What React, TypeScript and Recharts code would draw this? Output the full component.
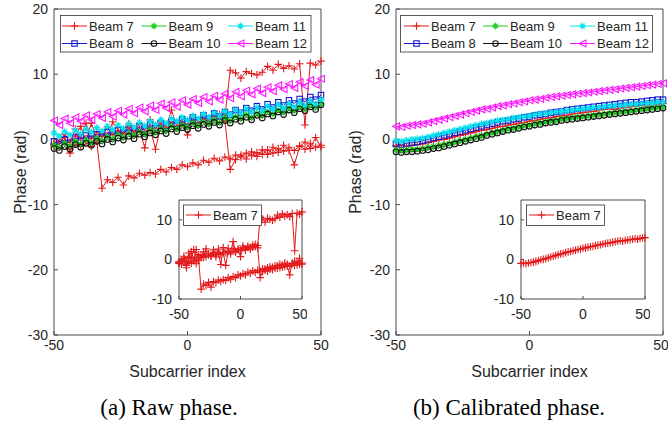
import React from "react";
import { LineChart, Line, XAxis, YAxis } from "recharts";

const subcarriers = [
  -50, -48, -46, -44, -42, -40, -38, -36, -34, -32,
  -30, -28, -26, -24, -22, -20, -18, -16, -14, -12,
  -10, -8, -6, -4, -2, 0, 2, 4, 6, 8,
  10, 12, 14, 16, 18, 20, 22, 24, 26, 28,
  30, 32, 34, 36, 38, 40, 42, 44, 46, 48,
  50,
];

// (a) raw phase; beam 7 holds three packets
const rawBeam7a = [
  -0.8, -1.2, -0.5, -1.5, -0.7, -1.0, -0.3, -1.1, -0.2, -7.5,
  -6.2, -6.6, -5.8, -7.0, -5.6, -5.9, -5.2, -5.5, -5.1, -5.3,
  -4.6, -5.0, -4.3, -4.6, -3.9, -4.2, -3.6, -3.9, -3.2, -3.5,
  -2.9, -3.3, -2.7, -3.0, -2.4, -2.7, -2.1, -2.5, -2.0, -2.3,
  -1.6, -2.1, -1.4, -1.8, -1.2, -1.7, -1.0, -1.5, -0.6, -1.2,
  -0.9,
];
const rawBeam7b = [
  -0.6, -0.2, 0.8, -0.4, 1.6, 0.2, 2.5, 0.1, 1.2, 0.4,
  1.9, 0.7, 1.1, 0.8, 2.4, 1.2, 1.5, -1.3, 3.0, 1.6,
  2.8, 1.9, 4.5, 2.0, 2.6, 2.3, 3.4, 2.6, 3.1, 3.0,
  3.6, 3.2, 3.5, 10.6, 10.2, 9.4, 10.4, 10.1, 9.9, 10.3,
  11.2, 10.6, 11.5, 10.9, 11.3, 10.8, 11.6, 2.2, 11.7, 11.4,
  12.0,
];
const rawBeam7c = [
  -1.0, -0.4, 0.3, -2.1, 0.5, 2.0, -0.2, 2.5, 0.1, 1.0,
  0.5, 2.7, 1.4, 0.9, 1.8, 0.6, 2.6, 1.2, 1.7, -1.5,
  2.0, 1.4, 2.7, 1.8, 2.4, 0.7, 2.9, 2.3, 3.3, 2.6,
  3.1, 3.8, 2.9, -4.6, -3.1, -2.4, -3.0, -1.9, -2.6, -1.6,
  -2.3, -1.2, -2.0, -0.9, -1.7, -3.9, -1.1, -0.4, -1.4, 0.3,
  -1.2,
];
const rawBeam8 = [
  -0.3, -0.8, 0.0, -0.5, 0.3, -0.2, 0.6, 0.1, 0.8, 0.4,
  1.1, 0.7, 1.4, 0.9, 1.7, 1.2, 2.0, 1.5, 2.3, 1.8,
  2.5, 2.1, 2.8, 2.4, 3.1, 2.7, 3.4, 2.9, 3.7, 3.2,
  4.0, 3.5, 4.2, 3.8, 4.5, 4.1, 4.8, 4.4, 5.1, 4.6,
  5.4, 4.9, 5.7, 5.2, 6.0, 5.5, 6.2, 5.8, 6.5, 6.1,
  6.8,
];
const rawBeam9 = [
  -0.9, -1.2, -0.6, -1.0, -0.3, -0.7, -0.1, -0.5, 0.2, -0.2,
  0.4, 0.1, 0.7, 0.3, 0.9, 0.6, 1.2, 0.8, 1.5, 1.1,
  1.7, 1.3, 2.0, 1.6, 2.2, 1.9, 2.5, 2.1, 2.7, 2.4,
  3.0, 2.6, 3.3, 2.9, 3.5, 3.2, 3.8, 3.4, 4.0, 3.7,
  4.3, 3.9, 4.5, 4.2, 4.8, 4.4, 5.0, 4.7, 5.3, 4.9,
  5.5,
];
const rawBeam10 = [
  -1.4, -1.7, -1.1, -1.5, -0.8, -1.2, -0.6, -0.9, -0.3, -0.7,
  0.0, -0.4, 0.2, -0.1, 0.5, 0.1, 0.8, 0.4, 1.0, 0.7,
  1.3, 0.9, 1.6, 1.2, 1.8, 1.5, 2.1, 1.7, 2.3, 2.0,
  2.6, 2.2, 2.9, 2.5, 3.1, 2.8, 3.4, 3.0, 3.7, 3.3,
  3.9, 3.6, 4.2, 3.8, 4.5, 4.1, 4.7, 4.4, 5.0, 4.6,
  5.3,
];
const rawBeam11 = [
  1.0, 0.5, 1.2, 0.7, 1.4, 0.9, 1.6, 1.1, 1.8, 1.3,
  2.0, 1.5, 2.2, 1.7, 2.4, 1.9, 2.6, 2.1, 2.8, 2.3,
  3.0, 2.5, 3.2, 2.8, 3.4, 3.0, 3.6, 3.2, 3.9, 3.4,
  4.1, 3.6, 4.3, 3.8, 4.5, 4.0, 4.7, 4.2, 4.9, 4.4,
  5.1, 4.6, 5.3, 4.8, 5.5, 5.0, 5.7, 5.2, 5.9, 5.4,
  6.1,
];
const rawBeam12 = [
  2.9, 2.2, 3.2, 2.5, 3.4, 2.8, 3.7, 3.0, 3.9, 3.3,
  4.2, 3.5, 4.4, 3.8, 4.7, 4.0, 4.9, 4.3, 5.2, 4.5,
  5.5, 4.8, 5.7, 5.0, 6.0, 5.3, 6.2, 5.6, 6.5, 5.8,
  6.7, 6.1, 7.0, 6.3, 7.3, 6.6, 7.5, 6.9, 7.8, 7.1,
  8.0, 7.4, 8.3, 7.7, 8.5, 7.9, 8.8, 8.2, 9.1, 8.4,
  9.3,
];

// (b) calibrated phase
const calBeam7 = [
  -1.0, -0.9, -1.1, -0.9, -0.8, -0.7, -0.5, -0.3, -0.1, 0.0,
  0.2, 0.4, 0.6, 0.8, 1.0, 1.2, 1.4, 1.5, 1.7, 1.9,
  2.0, 2.2, 2.3, 2.5, 2.6, 2.8, 2.9, 3.1, 3.2, 3.3,
  3.5, 3.6, 3.7, 3.9, 4.0, 4.1, 4.2, 4.3, 4.5, 4.6,
  4.7, 4.6, 4.8, 4.9, 5.0, 5.1, 5.2, 5.1, 5.3, 5.4,
  5.5,
];
const calBeam8 = [
  -0.7, -0.8, -0.6, -0.5, -0.4, -0.2, 0.0, 0.2, 0.4, 0.6,
  0.8, 1.0, 1.2, 1.4, 1.6, 1.8, 2.0, 2.2, 2.4, 2.6,
  2.8, 2.9, 3.1, 3.2, 3.4, 3.5, 3.7, 3.8, 3.9, 4.1,
  4.2, 4.3, 4.5, 4.6, 4.7, 4.8, 4.9, 5.0, 5.1, 5.2,
  5.3, 5.4, 5.5, 5.6, 5.7, 5.7, 5.8, 5.9, 6.0, 6.1,
  6.1,
];
const calBeam9 = [
  -1.6, -1.7, -1.6, -1.5, -1.5, -1.4, -1.2, -1.1, -0.9, -0.8,
  -0.6, -0.4, -0.2, 0.0, 0.2, 0.4, 0.6, 0.8, 1.0, 1.2,
  1.4, 1.6, 1.7, 1.9, 2.1, 2.2, 2.4, 2.5, 2.7, 2.8,
  2.9, 3.1, 3.2, 3.3, 3.4, 3.5, 3.6, 3.7, 3.8, 3.9,
  4.0, 4.1, 4.2, 4.3, 4.4, 4.5, 4.6, 4.7, 4.8, 4.9,
  5.0,
];
const calBeam10 = [
  -1.9, -2.0, -1.9, -1.9, -1.8, -1.7, -1.6, -1.4, -1.3, -1.1,
  -0.9, -0.7, -0.5, -0.3, -0.1, 0.1, 0.3, 0.6, 0.8, 1.0,
  1.2, 1.4, 1.5, 1.7, 1.9, 2.0, 2.2, 2.3, 2.5, 2.6,
  2.7, 2.9, 3.0, 3.1, 3.2, 3.3, 3.4, 3.5, 3.6, 3.7,
  3.8, 3.9, 4.0, 4.1, 4.2, 4.3, 4.4, 4.5, 4.6, 4.7,
  4.8,
];
const calBeam11 = [
  -0.2, -0.3, -0.1, 0.0, 0.1, 0.2, 0.4, 0.6, 0.8, 1.0,
  1.2, 1.4, 1.6, 1.8, 2.0, 2.2, 2.4, 2.5, 2.7, 2.9,
  3.0, 3.1, 3.3, 3.4, 3.5, 3.6, 3.8, 3.9, 4.0, 4.1,
  4.2, 4.3, 4.4, 4.5, 4.6, 4.7, 4.8, 4.9, 4.9, 5.0,
  5.1, 5.2, 5.2, 5.3, 5.4, 5.4, 5.5, 5.5, 5.6, 5.7,
  5.7,
];
const calBeam12 = [
  2.0, 1.9, 2.1, 2.2, 2.3, 2.4, 2.6, 2.8, 3.0, 3.2,
  3.4, 3.6, 3.8, 4.0, 4.2, 4.4, 4.6, 4.7, 4.9, 5.1,
  5.2, 5.4, 5.5, 5.7, 5.8, 6.0, 6.1, 6.2, 6.4, 6.5,
  6.6, 6.7, 6.8, 6.9, 7.0, 7.1, 7.2, 7.3, 7.4, 7.5,
  7.6, 7.7, 7.8, 7.9, 8.0, 8.1, 8.2, 8.3, 8.4, 8.5,
  8.6,
];

const mainYTicks = [-30, -20, -10, 0, 10, 20];
const insetYTicks = [-10, 0, 10];
const xTicks = [-50, 0, 50];

const FONT = "'Liberation Sans', Arial, Helvetica, sans-serif";
const SERIF = "'Liberation Serif', 'Times New Roman', Times, serif";
const AXIS = "#4a4a4a";
const TEXT = "#262626";

const RED = "#e31a1c";
const BLUE = "#1414d2";
const GREEN = "#1ccf1c";
const BLACK = "#111111";
const CYAN = "#00e3ee";
const MAGENTA = "#ff14ff";

type Shape = "plus" | "square" | "star" | "circle" | "tri";

type Series = { key: string; name: string; color: string; shape: Shape };

function Marker({ shape, cx, cy, color }: { shape: Shape; cx: number; cy: number; color: string }) {
  const h = 3.4;
  const sw = 1.1;
  if (shape === "plus") {
    return <path d={`M${cx - 3.8},${cy}H${cx + 3.8}M${cx},${cy - 3.8}V${cy + 3.8}`} stroke={color} strokeWidth={sw} fill="none" />;
  }
  if (shape === "square") {
    return <rect x={cx - 2.7} y={cy - 2.7} width={5.4} height={5.4} stroke={color} strokeWidth={sw} fill="none" />;
  }
  if (shape === "star") {
    const d = 2.4;
    return (
      <path
        d={`M${cx - h},${cy}H${cx + h}M${cx},${cy - h}V${cy + h}M${cx - d},${cy - d}L${cx + d},${cy + d}M${cx - d},${cy + d}L${cx + d},${cy - d}`}
        stroke={color}
        strokeWidth={sw}
        fill="none"
      />
    );
  }
  if (shape === "circle") {
    return <circle cx={cx} cy={cy} r={2.8} stroke={color} strokeWidth={sw} fill="none" />;
  }
  return <path d={`M${cx - h},${cy}L${cx + h},${cy - h}L${cx + h},${cy + h}Z`} stroke={color} strokeWidth={sw} fill="none" />;
}

const rawSeries: Series[] = [
  { key: "b7a", name: "Beam 7", color: RED, shape: "plus" },
  { key: "b7b", name: "Beam 7", color: RED, shape: "plus" },
  { key: "b7c", name: "Beam 7", color: RED, shape: "plus" },
  { key: "b8", name: "Beam 8", color: BLUE, shape: "square" },
  { key: "b9", name: "Beam 9", color: GREEN, shape: "star" },
  { key: "b10", name: "Beam 10", color: BLACK, shape: "circle" },
  { key: "b11", name: "Beam 11", color: CYAN, shape: "star" },
  { key: "b12", name: "Beam 12", color: MAGENTA, shape: "tri" },
];

const calSeries: Series[] = [
  { key: "b7", name: "Beam 7", color: RED, shape: "plus" },
  { key: "b8", name: "Beam 8", color: BLUE, shape: "square" },
  { key: "b9", name: "Beam 9", color: GREEN, shape: "star" },
  { key: "b10", name: "Beam 10", color: BLACK, shape: "circle" },
  { key: "b11", name: "Beam 11", color: CYAN, shape: "star" },
  { key: "b12", name: "Beam 12", color: MAGENTA, shape: "tri" },
];

const legendItems: Series[] = calSeries;

const rawRows = subcarriers.map((x, i) => ({
  x,
  b7a: rawBeam7a[i],
  b7b: rawBeam7b[i],
  b7c: rawBeam7c[i],
  b8: rawBeam8[i],
  b9: rawBeam9[i],
  b10: rawBeam10[i],
  b11: rawBeam11[i],
  b12: rawBeam12[i],
}));

const calRows = subcarriers.map((x, i) => ({
  x,
  b7: calBeam7[i],
  b8: calBeam8[i],
  b9: calBeam9[i],
  b10: calBeam10[i],
  b11: calBeam11[i],
  b12: calBeam12[i],
}));

const tickStyle = { fill: TEXT, fontSize: 14, fontFamily: FONT };

function renderLines(series: Series[]) {
  return series.map((s) => (
    <Line
      key={s.key}
      dataKey={s.key}
      stroke={s.color}
      strokeWidth={1}
      isAnimationActive={false}
      activeDot={false}
      dot={(p: any) =>
        p.cx == null || p.cy == null ? (
          <g key={`${s.key}-${p.index}`} />
        ) : (
          <Marker key={`${s.key}-${p.index}`} shape={s.shape} cx={p.cx} cy={p.cy} color={s.color} />
        )
      }
    />
  ));
}

// top and right box edges with inward ticks, MATLAB style (1px thick so recharts draws them)
function boxAxes(yTicks: number[], yDomain: [number, number], tickLen: number, anyKey: string) {
  return [
    <XAxis key="xt" xAxisId="top" orientation="top" dataKey="x" type="number" domain={[-50, 50]} ticks={xTicks} allowDataOverflow height={1} tickSize={-tickLen} tick={false} stroke={AXIS} />,
    <YAxis key="yr" yAxisId="right" orientation="right" type="number" domain={yDomain} ticks={yTicks} allowDataOverflow width={1} tickSize={-tickLen} tick={false} stroke={AXIS} />,
    <Line key="ghost" xAxisId="top" yAxisId="right" dataKey={anyKey} stroke="none" dot={false} activeDot={false} isAnimationActive={false} />,
  ];
}

function MainChart({ left, axisWidth, rightMargin, rows, series }: { left: number; axisWidth: number; rightMargin: number; rows: any[]; series: Series[] }) {
  return (
    <div style={{ position: "absolute", left, top: 0 }}>
      <LineChart width={334} height={360} data={rows} margin={{ top: 8, right: rightMargin - 1, left: 0, bottom: 0 }}>
        <XAxis dataKey="x" type="number" domain={[-50, 50]} ticks={xTicks} height={25} tickSize={-4} tickMargin={9} stroke={AXIS} tick={tickStyle} />
        <YAxis type="number" domain={[-30, 20]} ticks={mainYTicks} width={axisWidth} tickSize={-4} tickMargin={10} stroke={AXIS} tick={tickStyle} />
        {boxAxes(mainYTicks, [-30, 20], 4, series[0].key)}
        {renderLines(series)}
      </LineChart>
    </div>
  );
}

function InsetChart({ left, plotWidth, rows, series }: { left: number; plotWidth: number; rows: any[]; series: Series[] }) {
  return (
    <div style={{ position: "absolute", left, top: 195 }}>
      <LineChart width={30 + plotWidth + 5} height={129} data={rows} margin={{ top: 4, right: 4, left: 0, bottom: 0 }}>
        <XAxis dataKey="x" type="number" domain={[-50, 50]} ticks={xTicks} height={25} tickSize={-3} tickMargin={13} stroke={AXIS} tick={tickStyle} />
        <YAxis type="number" domain={[-10, 15]} ticks={insetYTicks} width={30} tickSize={-3} tickMargin={10} stroke={AXIS} tick={tickStyle} />
        {boxAxes(insetYTicks, [-10, 15], 3, series[0].key)}
        {renderLines(series)}
      </LineChart>
    </div>
  );
}

function LegendEntry({ x, y, item }: { x: number; y: number; item: Series }) {
  return (
    <g>
      <line x1={x} y1={y} x2={x + 25} y2={y} stroke={item.color} strokeWidth={1} />
      <Marker shape={item.shape} cx={x + 12.5} cy={y} color={item.color} />
      <text x={x + 27} y={y} dominantBaseline="central" fontFamily={FONT} fontSize={13} fill={TEXT}>
        {item.name}
      </text>
    </g>
  );
}

function MainLegend({ box, cols }: { box: [number, number, number, number]; cols: number[] }) {
  const rows = [26, 43.5];
  return (
    <g>
      <rect x={box[0]} y={box[1]} width={box[2]} height={box[3]} fill="#fff" stroke="#333" strokeWidth={0.8} />
      {legendItems.map((it, k) => (
        <LegendEntry key={it.key} x={cols[Math.floor(k / 2)]} y={rows[k % 2]} item={it} />
      ))}
    </g>
  );
}

function InsetLegend({ x }: { x: number }) {
  return (
    <g>
      <rect x={x} y={205} width={78} height={20.5} fill="#fff" stroke="#333" strokeWidth={0.8} />
      <LegendEntry x={x + 2.5} y={215} item={legendItems[0]} />
    </g>
  );
}

export default function App() {
  return (
    <div style={{ position: "absolute", left: 0, top: 0, width: 668, height: 426, background: "#fff", overflow: "hidden" }}>
      <MainChart left={0} axisWidth={54} rightMargin={13} rows={rawRows} series={rawSeries} />
      <MainChart left={334} axisWidth={62} rightMargin={5} rows={calRows} series={calSeries} />
      <InsetChart left={149} plotWidth={123} rows={rawRows} series={rawSeries.slice(0, 3)} />
      <InsetChart left={491} plotWidth={124} rows={calRows} series={calSeries.slice(0, 1)} />
      <svg width={668} height={426} style={{ position: "absolute", left: 0, top: 0, pointerEvents: "none" }}>
        <MainLegend box={[60.5, 15.5, 250.5, 36.5]} cols={[62, 141.5, 228]} />
        <MainLegend box={[400.5, 15.5, 252, 36.5]} cols={[404, 483, 570]} />
        <InsetLegend x={183.5} />
        <InsetLegend x={526.5} />
        <text transform="translate(20,172) rotate(-90)" textAnchor="middle" dominantBaseline="central" fontFamily={FONT} fontSize={16} fill={TEXT}>
          Phase (rad)
        </text>
        <text transform="translate(355,172) rotate(-90)" textAnchor="middle" dominantBaseline="central" fontFamily={FONT} fontSize={16} fill={TEXT}>
          Phase (rad)
        </text>
        <text x={187.5} y={377} textAnchor="middle" fontFamily={FONT} fontSize={16} fill={TEXT}>
          Subcarrier index
        </text>
        <text x={529.5} y={377} textAnchor="middle" fontFamily={FONT} fontSize={16} fill={TEXT}>
          Subcarrier index
        </text>
        <text x={169} y={415} textAnchor="middle" fontFamily={SERIF} fontSize={23} fill="#000">
          (a) Raw phase.
        </text>
        <text x={509} y={415} textAnchor="middle" fontFamily={SERIF} fontSize={23} fill="#000">
          (b) Calibrated phase.
        </text>
      </svg>
    </div>
  );
}
